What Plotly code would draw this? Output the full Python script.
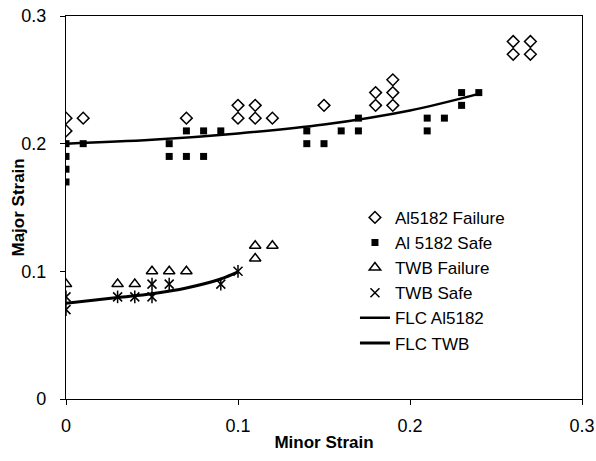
import plotly.graph_objects as go

# Al5182 Failure
al_fail_x = [0, 0, 0.01, 0.07, 0.10, 0.10, 0.11, 0.11, 0.12, 0.15, 0.18, 0.18, 0.19, 0.19, 0.19, 0.26, 0.27, 0.26, 0.27]
al_fail_y = [0.22, 0.21, 0.22, 0.22, 0.23, 0.22, 0.23, 0.22, 0.22, 0.23, 0.24, 0.23, 0.24, 0.23, 0.25, 0.28, 0.28, 0.27, 0.27]

# Al 5182 Safe
al_safe_x = [0, 0, 0, 0, 0.01, 0.06, 0.06, 0.07, 0.08, 0.07, 0.08, 0.09, 0.14, 0.14, 0.15, 0.16, 0.17, 0.17, 0.21, 0.21, 0.22, 0.23, 0.23, 0.24]
al_safe_y = [0.20, 0.19, 0.18, 0.17, 0.20, 0.20, 0.19, 0.19, 0.19, 0.21, 0.21, 0.21, 0.21, 0.20, 0.20, 0.21, 0.21, 0.22, 0.22, 0.21, 0.22, 0.24, 0.23, 0.24]

# TWB Failure
twb_fail_x = [0, 0.03, 0.04, 0.05, 0.06, 0.07, 0.11, 0.12, 0.11]
twb_fail_y = [0.09, 0.09, 0.09, 0.10, 0.10, 0.10, 0.12, 0.12, 0.11]

# TWB Safe
twb_safe_x = [0, 0, 0.03, 0.04, 0.05, 0.05, 0.06, 0.09, 0.10]
twb_safe_y = [0.08, 0.07, 0.08, 0.08, 0.08, 0.09, 0.09, 0.09, 0.10]

# FLC curves
flc_al_x = [0, 0.05, 0.10, 0.15, 0.20, 0.24]
flc_al_y = [0.200, 0.203, 0.208, 0.215, 0.226, 0.239]
flc_twb_x = [0, 0.03, 0.05, 0.07, 0.09, 0.10]
flc_twb_y = [0.075, 0.0795, 0.0825, 0.087, 0.094, 0.0995]

x_ticks = [0, 0.1, 0.2, 0.3]
x_tick_text = ["0", "0.1", "0.2", "0.3"]
y_ticks = [0, 0.1, 0.2, 0.3]
y_tick_text = ["0", "0.1", "0.2", "0.3"]

FONT = "Liberation Sans, Arial, sans-serif"
fig = go.Figure()

fig.add_trace(go.Scatter(x=al_fail_x, y=al_fail_y, mode="markers", name="Al5182 Failure",
                         marker=dict(symbol="diamond-open", size=9, color="black", line=dict(width=1.5, color="black"))))
fig.add_trace(go.Scatter(x=al_safe_x, y=al_safe_y, mode="markers", name="Al 5182 Safe",
                         marker=dict(symbol="square", size=7, color="black")))
fig.add_trace(go.Scatter(x=twb_fail_x, y=twb_fail_y, mode="markers", name="TWB Failure",
                         marker=dict(symbol="triangle-up-open", size=10, color="black", line=dict(width=1.5, color="black"))))
fig.add_trace(go.Scatter(x=twb_safe_x, y=twb_safe_y, mode="markers", name="TWB Safe", legendgroup="ts",
                         marker=dict(symbol="x-thin-open", size=9, color="black", line=dict(width=1.5, color="black"))))
fig.add_trace(go.Scatter(x=twb_safe_x, y=twb_safe_y, mode="markers", name="TWB Safe", legendgroup="ts", showlegend=False,
                         marker=dict(symbol="line-ns-open", size=9, color="black", line=dict(width=1.5, color="black"))))
fig.add_trace(go.Scatter(x=flc_al_x, y=flc_al_y, mode="lines", name="FLC Al5182",
                         line=dict(color="black", width=2.5, shape="spline")))
fig.add_trace(go.Scatter(x=flc_twb_x, y=flc_twb_y, mode="lines", name="FLC TWB",
                         line=dict(color="black", width=3, shape="spline")))

fig.update_layout(
    width=596, height=461,
    margin=dict(l=66, r=14, t=16, b=62),
    paper_bgcolor="white", plot_bgcolor="white",
    font=dict(family=FONT, size=17, color="black"),
    showlegend=True,
    legend=dict(x=0.56, y=0.52, xanchor="left", yanchor="top", tracegroupgap=0,
                bgcolor="rgba(0,0,0,0)", font=dict(size=17, family=FONT, color="black")),
    xaxis=dict(range=[0, 0.3], tickvals=x_ticks, ticktext=x_tick_text, automargin=False,
               showgrid=False, zeroline=False, showline=True, linecolor="black", linewidth=1.2,
               mirror=True, ticks="outside", ticklen=5, tickcolor="black", ticklabelstandoff=5,
               tickfont=dict(size=18, family=FONT),
               title=dict(text="<b>Minor Strain</b>", font=dict(size=17, family=FONT), standoff=1)),
    yaxis=dict(range=[0, 0.3], tickvals=y_ticks, ticktext=y_tick_text, automargin=False,
               showgrid=False, zeroline=False, showline=True, linecolor="black", linewidth=1.2,
               mirror=True, ticks="outside", ticklen=5, tickcolor="black", ticklabelstandoff=10,
               tickfont=dict(size=18, family=FONT)),
    annotations=[dict(text="<b>Major Strain</b>", xref="paper", yref="paper",
                      x=-0.093, y=0.5, xanchor="center", yanchor="middle", textangle=-90,
                      showarrow=False, font=dict(size=17, family=FONT, color="black"))],
)

fig.write_html("out.html")
